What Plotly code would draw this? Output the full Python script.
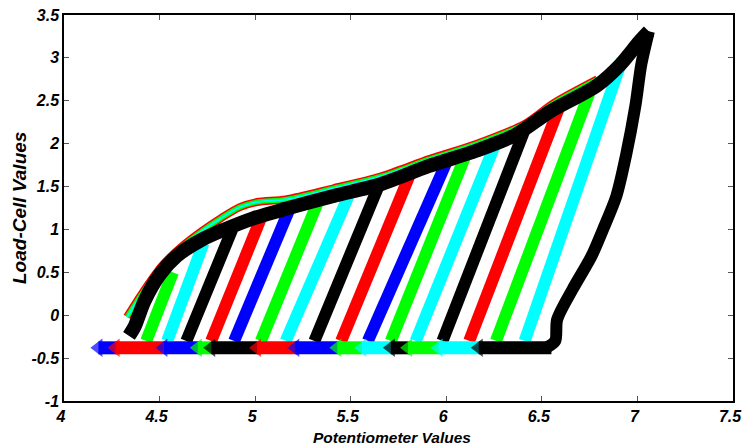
import plotly.graph_objects as go

# ---------------- data ----------------
# upper (black) envelope curve
env_x = [4.34, 4.37, 4.42, 4.50, 4.59, 4.72, 4.84, 4.99, 5.16, 5.41, 5.66, 5.91, 6.16, 6.36, 6.54, 6.79, 6.91, 7.01, 7.06]
env_y = [-0.24, -0.13, 0.16, 0.47, 0.69, 0.88, 1.00, 1.13, 1.24, 1.39, 1.53, 1.74, 1.92, 2.10, 2.37, 2.68, 2.92, 3.19, 3.31]

# coloured fringe just above the envelope (earlier cycles)
fringe_x = [4.33, 4.41, 4.51, 4.61, 4.72, 4.82, 4.92, 5.01, 5.16, 5.41, 5.66, 5.91, 6.16, 6.41, 6.56, 6.79]
fringe_y = [-0.02, 0.26, 0.57, 0.79, 0.98, 1.13, 1.26, 1.32, 1.35, 1.48, 1.62, 1.82, 2.00, 2.23, 2.47, 2.75]

# outer (last) loading branch, black
outer_x = [6.53, 6.57, 6.58, 6.66, 6.76, 6.82, 6.89, 6.94, 6.99, 7.02, 7.06]
outer_y = [-0.37, -0.30, -0.05, 0.30, 0.69, 1.00, 1.39, 1.86, 2.45, 2.92, 3.31]

# inner loading branches: colour, bottom x, top x, top y
stripe_colors = ["green", "cyan", "black", "red", "blue", "green", "cyan", "black", "red",
                 "blue", "green", "cyan", "black", "red", "green", "cyan"]
stripe_x0 = [4.43, 4.54, 4.64, 4.77, 4.89, 5.03, 5.16, 5.31, 5.45, 5.59, 5.71, 5.84, 5.98, 6.12, 6.26, 6.41]
stripe_x1 = [4.57, 4.73, 4.88, 5.03, 5.18, 5.33, 5.50, 5.65, 5.81, 6.00, 6.10, 6.25, 6.41, 6.59, 6.76, 6.92]
stripe_y1 = [0.50, 0.84, 1.00, 1.13, 1.24, 1.33, 1.45, 1.53, 1.64, 1.78, 1.86, 1.96, 2.16, 2.42, 2.66, 2.98]
stripe_y0 = -0.30

# bottom (unloaded) band segments: colour, left x, right x
band_colors = ["blue", "red", "blue", "green", "black", "red", "blue", "green", "cyan",
               "black", "green", "cyan", "black"]
band_x0 = [4.18, 4.27, 4.52, 4.70, 4.77, 5.01, 5.21, 5.43, 5.56, 5.71, 5.80, 5.96, 6.17]
band_x1 = [4.28, 4.52, 4.72, 4.77, 5.03, 5.23, 5.44, 5.56, 5.74, 5.81, 5.98, 6.19, 6.55]
band_y = -0.38

x_ticks = [4, 4.5, 5, 5.5, 6, 6.5, 7, 7.5]
y_ticks = [-1, -0.5, 0, 0.5, 1, 1.5, 2, 2.5, 3, 3.5]
x_title = "Potentiometer Values"
y_title = "Load-Cell Values"

COL = {"black": "#000000", "red": "#ff0000", "blue": "#0000ff",
       "green": "#00ff00", "cyan": "#00ffff"}

fig = go.Figure()

# inner stripes
for c, x0, x1, y1 in zip(stripe_colors, stripe_x0, stripe_x1, stripe_y1):
    fig.add_trace(go.Scatter(x=[x0, x1], y=[stripe_y0, y1], mode="lines",
                             line=dict(color=COL[c], width=12), hoverinfo="skip"))

# outer loading branch
fig.add_trace(go.Scatter(x=outer_x, y=outer_y, mode="lines",
                         line=dict(color=COL["black"], width=12, shape="spline", smoothing=0.8),
                         hoverinfo="skip"))

# bottom band
for c, x0, x1 in zip(band_colors, band_x0, band_x1):
    fig.add_trace(go.Scatter(x=[x0, x1], y=[band_y, band_y], mode="lines+markers",
                             line=dict(color=COL[c], width=13),
                             marker=dict(symbol="triangle-left", size=[16, 0], color=COL[c],
                                         line=dict(width=0)),
                             hoverinfo="skip"))

# coloured fringe over the envelope
fig.add_trace(go.Scatter(x=fringe_x, y=fringe_y, mode="lines",
                         line=dict(color=COL["red"], width=8, shape="spline", smoothing=0.8),
                         hoverinfo="skip"))
fig.add_trace(go.Scatter(x=fringe_x, y=fringe_y, mode="lines",
                         line=dict(color=COL["green"], width=5, shape="spline", smoothing=0.8),
                         hoverinfo="skip"))
fig.add_trace(go.Scatter(x=fringe_x, y=fringe_y, mode="lines",
                         line=dict(color=COL["cyan"], width=2, shape="spline", smoothing=0.8),
                         hoverinfo="skip"))

# black envelope
fig.add_trace(go.Scatter(x=env_x, y=env_y, mode="lines",
                         line=dict(color=COL["black"], width=14, shape="spline", smoothing=0.8),
                         hoverinfo="skip"))

font_ticks = dict(family="Liberation Sans, Arial", size=16, color="black")
axis_common = dict(showgrid=False, zeroline=False, showline=True, linecolor="black",
                   linewidth=1.5, mirror="ticks", ticks="inside", ticklen=5,
                   tickcolor="#555555", tickwidth=1, automargin=False,
                   ticklabeloverflow="allow")

fig.update_layout(
    width=745, height=446,
    margin=dict(l=64, r=12, t=15, b=45),
    paper_bgcolor="white", plot_bgcolor="white",
    showlegend=False,
    xaxis=dict(range=[4, 7.5], tickvals=x_ticks,
               ticktext=[f"<b><i>{v:g}</i></b>" for v in x_ticks],
               tickfont=font_ticks, ticklabelshift=-3, **axis_common),
    yaxis=dict(range=[-1, 3.5], tickvals=y_ticks,
               ticktext=[f"<b><i>{v:g}</i></b>" for v in y_ticks],
               tickfont=font_ticks, **axis_common),
    annotations=[
        dict(text=f"<b><i>{x_title}</i></b>", xref="paper", yref="paper",
             x=0.49, y=0, yshift=-36, xanchor="center", yanchor="middle",
             showarrow=False, font=dict(family="Liberation Sans, Arial", size=15.5, color="black")),
        dict(text=f"<b><i>{y_title}</i></b>", xref="paper", yref="paper",
             x=0, xshift=-45, y=0.5, xanchor="center", yanchor="middle", textangle=-90,
             showarrow=False, font=dict(family="Liberation Sans, Arial", size=19, color="black")),
    ],
)

# remove the default page margin so the figure fills the window exactly
fig.write_html("out.html",
               config={"displayModeBar": False},
               post_script="document.body.style.margin='0';document.body.style.overflow='hidden';")
